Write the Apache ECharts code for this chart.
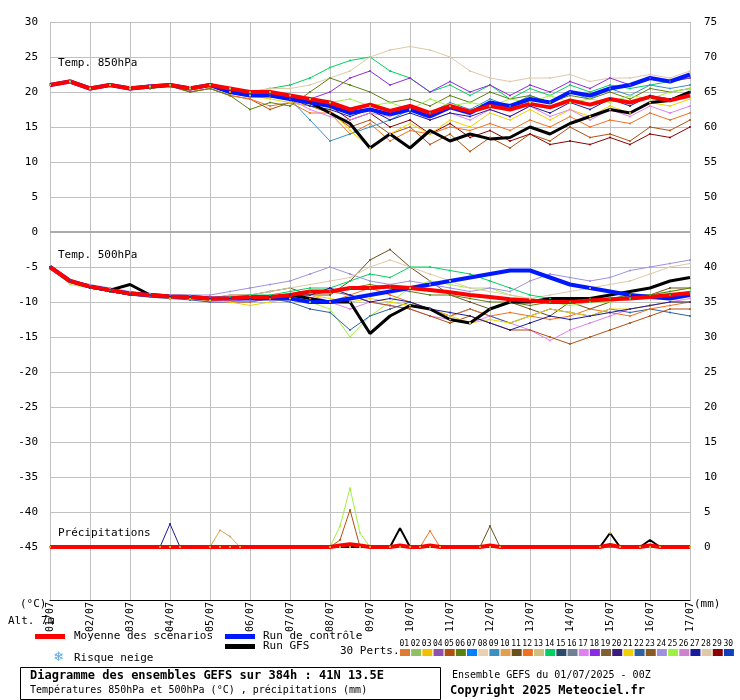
<!DOCTYPE html>
<html><head><meta charset="utf-8">
<script src="https://cdn.jsdelivr.net/npm/echarts@6/dist/echarts.min.js"></script>
<style>html,body{margin:0;padding:0;background:#fff}#c{width:740px;height:700px}</style>
</head><body><div id="c"></div>
<script>
// ---- DATA (12h steps, 0..384h) ----
var dates = ["01/07","02/07","03/07","04/07","05/07","06/07","07/07","08/07","09/07","10/07","11/07","12/07","13/07","14/07","15/07","16/07","17/07"];
var leftTicks = [30,25,20,15,10,5,0,-5,-10,-15,-20,-25,-30,-35,-40,-45];
var t850Mean = [21,21.5,20.5,21,20.5,20.8,21,20.5,21,20.5,20,20,19.5,19,18.5,17.5,18.2,17.3,18,17,18,17.2,18,17.5,18.3,17.8,18.8,18.2,19,18.5,19.3,18.8,19.5];
var t850Ctrl = [21,21.5,20.5,21,20.5,20.8,21,20.5,21,20,19.5,19.5,19,18.5,18,17,17.5,16.8,17.5,16.5,17.8,17,18.5,18,19,18.5,20,19.5,20.5,21,22,21.5,22.5];
var t850Gfs  = [21,21.5,20.5,21,20.5,20.8,21,20.5,21,20,19.5,19.5,19,18.5,17,15.5,12,14,12,14.5,13,14,13.3,13.5,15,14,15.5,16.5,17.5,17,18.5,18.8,20];
var t850P14 = [21,21.5,20.5,21,20.5,21,21,20.5,21,20.5,20,20.5,21,22,23.5,24.5,25,23,22,20,21,19.5,21,19,20.5,19.5,21,20,21,20.5,21,21.5,22];
var t850P28 = [21,21.5,20.5,21,20.8,21,21,20.8,21,20.5,20,20.5,20.5,21,22,23,25,26,26.5,26,25,23,22,21.5,22,22,22.5,21.5,22,22,22.5,22,23];
var t850P05 = [21,21.3,20.5,21,20.5,20.5,21,20,20.5,19.5,19,17.5,18.5,18,17,15,16,14,15,12.5,14,11.5,13.5,12,14,13,15,13.5,14,13,15,14.5,16];
var t850P29 = [21,21.5,20.5,21,20.5,20.8,21,20.5,21,20,19.5,19.5,19,18.5,18,16,17,15,16,14,15.5,13.5,14.5,13,14,12.5,13,12.5,13.5,12.5,14,13.5,15];
var t850P18 = [21,21.5,20.5,21,20.5,21,21,20.5,21,20.5,20,20,19.5,19,20,22,23,21,22,20,21.5,20,21,19.5,21,20,21.5,20.5,22,21,22,21.5,22];
var t850P12 = [21,21.3,20.5,21,20.5,20.5,21,20,20.5,19.5,19,18,18.5,17,17,14,15.5,13,14.5,14,15,14.5,15.5,14.5,16,15,16.5,15,16,15.5,17,16,17];
var t850P09 = [21,21.5,20.5,21,20.5,20.8,21,20.5,21,20.5,19.5,19.5,19,16,13,14,15,16,17.5,17,18.5,17.5,19,18,19.5,18.5,20,19,20.5,19.5,21,20.5,21];
var t850P21 = [21,21.5,20.5,21,20.5,20.8,21,20.5,21,20,19.5,19,18.5,18,17.5,14.5,12,14,15.5,14,16,15,17,16,17.5,16,17.5,16.5,18,17,18.5,18,19];
var t850P06 = [21,21.3,20.5,21,20.5,20.5,20.8,20,20.5,19.5,17.5,18.5,18,20,22,21,20,18.5,19,18,19.5,18.5,20,19,19.5,18.5,19.5,19,20,19,20.5,20,20.5];
var t850P17 = [21,21.5,20.5,21,20.5,20.8,21,20.5,21,20.5,20,19.5,19,17.5,16.5,16,17,16.5,17.5,16,17,16,17.5,16.5,18,16.5,17.5,16,17.5,16.5,18,17,18];
var t850P27 = [21,21.5,20.5,21,20.5,20.8,21,20.5,21,20.5,20,19.5,19,18,17.5,16.5,17.5,16,17,16,17,16.5,17.5,16.5,18,17,18.5,17.5,19,18,19.5,19,20];
var t850P25 = [21,21.5,20.5,21,20.5,20.8,21,20.5,21,20.5,20,20,19.5,19,18.5,19,18,18.5,17.5,19,18,18.5,18,19,18.5,19.5,18.5,19,18.5,19.5,19,20,20.5];

var t500Mean = [-5,-7,-7.8,-8.3,-8.8,-9,-9.2,-9.3,-9.5,-9.5,-9.3,-9.3,-9,-8.5,-8.5,-8,-8,-7.8,-8,-8.3,-8.6,-9,-9.3,-9.6,-9.8,-10,-10,-9.8,-9.6,-9.5,-9.3,-9,-8.7];
var t500Ctrl = [-5,-7,-7.8,-8.3,-8.8,-9,-9.2,-9.3,-9.5,-9.5,-9.5,-9.5,-9.5,-10,-10,-9.5,-9,-8.5,-8,-7.5,-7,-6.5,-6,-5.5,-5.5,-6.5,-7.5,-8,-8.5,-9,-9.3,-9.5,-9];
var t500Gfs  = [-5,-7,-7.8,-8.3,-7.5,-9,-9.2,-9.3,-9.5,-9.5,-9.5,-9.5,-9,-9.5,-10,-10,-14.5,-12,-10.5,-11,-12.5,-13,-11,-10,-10,-9.5,-9.5,-9.5,-9,-8.5,-8,-7,-6.5];
var t500P11 = [-5,-7,-8,-8.5,-9,-9,-9.5,-9.5,-9.5,-9,-9,-8.5,-8,-9,-9,-7,-4,-2.5,-5,-7,-9,-10,-11,-10,-11,-12,-10,-11,-10,-9,-9,-8,-8];
var t500P25 = [-5,-7.5,-8,-8.5,-9,-9,-9.5,-9.5,-9.5,-9.5,-9.5,-9.5,-9,-10,-11,-15,-12,-10,-8,-7,-7.5,-8,-8,-9,-9.5,-10,-10.5,-10,-10,-9.5,-9,-8.5,-8];
var t500P24 = [-5,-7,-7.5,-8,-8.5,-8.8,-9,-9,-9,-8.5,-8,-7.5,-7,-6,-5,-6,-7,-7.5,-7,-7.5,-8,-8.5,-8,-8.5,-7,-6,-6.5,-7,-6.5,-5.5,-5,-4.5,-4];
var t500P17 = [-5,-7,-8,-8.5,-9,-9.3,-9.5,-9.5,-10,-10,-9.5,-9.5,-9,-9,-10,-11,-10,-10.5,-11,-12,-12.5,-13,-12,-13,-14,-15.5,-14,-13,-12,-11,-10.5,-10,-9.5];
var t500P05 = [-5,-7,-8,-8.5,-9,-9,-9.2,-9.3,-9.5,-9.5,-9.5,-9.3,-9,-9,-8.5,-9,-10,-10.5,-11,-12,-13,-12,-13,-14,-14,-15,-16,-15,-14,-13,-12,-11,-11];
var t500P28 = [-5,-7,-8,-8.5,-9,-9,-9.3,-9.5,-9.5,-9,-9,-8.5,-8,-7.5,-7,-6.5,-5,-4,-5,-6,-7,-8,-8.5,-9,-9.5,-9,-8.5,-8,-7.5,-7,-6,-5,-4.5];
var t500P14 = [-5,-7,-8,-8.5,-9,-9,-9.2,-9.3,-9.5,-9.3,-9,-9,-8.5,-8,-8,-7,-6,-6.5,-5,-5,-5.5,-6,-7,-8,-9,-9.5,-10,-10,-9.5,-9.5,-9,-9,-8.5];
var t500P22 = [-5,-7,-8,-8.5,-9,-9.3,-9.5,-9.7,-10,-10,-10,-9.5,-10,-11,-11.5,-14,-12,-11,-10,-11,-12,-11,-12,-13,-12,-11,-11.5,-12,-11,-11.5,-11,-11.5,-12];
var t500P12 = [-5,-7,-8,-8.5,-9,-9,-9.5,-9.5,-9.8,-10,-10,-9.5,-9,-9.5,-10,-9,-8,-9,-10,-11,-12,-11,-12,-11.5,-12,-12.5,-12,-11,-11.5,-12,-11,-10.5,-10];
var t500P06 = [-5,-7,-8,-8.5,-9,-9,-9.2,-9.3,-9.5,-9.5,-9.5,-9.3,-9,-8.5,-8.5,-8,-7.5,-8,-8.5,-9,-9,-9.5,-10,-10,-10.5,-10,-10,-9.5,-9.5,-9,-9,-8.5,-8];
var t500P21 = [-5,-7,-8,-8.5,-9,-9,-9.5,-9.5,-9.8,-10,-10.5,-10,-9.5,-9,-9.5,-10,-9.5,-10,-10.5,-11,-12,-13,-12.5,-13,-12,-11,-11.5,-12,-11,-11,-10.5,-10,-10];
var t500P27 = [-5,-7,-8,-8.5,-9,-9,-9.2,-9.3,-9.5,-9.5,-9.5,-9.3,-9,-9,-8,-9,-10,-9.5,-10,-11,-11.5,-12,-13,-14,-13,-12,-12.5,-12,-11.5,-11,-10.5,-10,-10];

// precipitation (hour, mm)
var prHours  = [0,66,72,78,96,102,108,114,168,174,180,186,192,204,210,216,222,228,234,258,264,270,330,336,342,354,360,366,384];
var prMean   = [0,0,0,0,0,0,0,0,0,0.2,0.4,0.2,0,0,0.2,0,0,0.2,0,0,0.2,0,0,0.3,0,0,0.2,0,0];
var prGfs    = [0,0,0,0,0,0,0,0,0,0,0,0,0,0,2.7,0,0,0,0,0,0,0,0,2,0,0,1,0,0];
var prP27    = [0,0,3.3,0,0,0,0,0,0,0,0,0,0,0,0,0,0,0,0,0,0,0,0,0,0,0,0,0,0];
var prP25    = [0,0,0,0,0,0,0,0,0,3,8.4,2,0,0,0,0,0,0,0,0,0,0,0,0,0,0,0,0,0];
var prP05    = [0,0,0,0,0,0,0,0,0,1,5.3,0,0,0,0,0,0,0,0,0,0,0,0,0,0,0,0,0,0];
var prP10    = [0,0,0,0,0,2.4,1.5,0,0,0,0,0,0,0,0,0,0,0,0,0,0,0,0,0,0,0,0,0,0];
var prP12    = [0,0,0,0,0,0,0,0,0,0,0,0,0,0,0,0,0,2.3,0,0,0,0,0,0,0,0,0,0,0];
var prP11    = [0,0,0,0,0,0,0,0,0,0,0,0,0,0,0,0,0,0,0,0,3,0,0,0,0,0,0,0,0];
var prP03    = [0,0,0,0,0,0,0,0,0,0,0,0,0,0,0,0,0,0,0,0,0,0,0,2,0,0,0,0,0];

var pertColors = ["#e07a30","#90c060","#f0c000","#9050b0","#b05010","#5a8010","#0080ff","#e8d0b0","#3a8fc0","#e0a050","#6b4f1a","#f07020","#d0c080","#00d060","#2a4a6a","#708090","#e080f0","#8a2be2","#806030","#3a1a7a","#f0d000","#3060a0","#8b5a20","#a090e0","#a0f040","#d080d0","#1a1a9e","#e0c8a8","#8b0000","#1040c0"];

// ---- BUILD ----
function pts(arr){return arr.map(function(v,i){return [i*12,v];});}
function ppts(arr){return arr.map(function(v,i){return [prHours[i],v];});}
var series=[];
function pert(arr,num,conv){
  series.push({type:'line',data:conv(arr),xAxisIndex:0,yAxisIndex:conv===ppts?1:0,symbol:'circle',symbolSize:2,
    lineStyle:{width:1,color:pertColors[num-1]},itemStyle:{color:pertColors[num-1]},silent:true,animation:false});
}
[[t850P14,14],[t850P28,28],[t850P05,5],[t850P29,29],[t850P18,18],[t850P12,12],[t850P09,9],[t850P21,21],[t850P06,6],[t850P17,17],[t850P27,27],[t850P25,25],
 [t500P11,11],[t500P25,25],[t500P24,24],[t500P17,17],[t500P05,5],[t500P28,28],[t500P14,14],[t500P22,22],[t500P12,12],[t500P06,6],[t500P21,21],[t500P27,27]].forEach(function(p){pert(p[0],p[1],pts);});
[[prP27,27],[prP25,25],[prP05,5],[prP10,10],[prP12,12],[prP11,11],[prP03,3]].forEach(function(p){pert(p[0],p[1],ppts);});
function main(data,color,w,yi){series.push({type:'line',data:data,xAxisIndex:0,yAxisIndex:yi,symbol:'none',lineStyle:{width:w,color:color},silent:true,animation:false});}
main(pts(t850Gfs),'#000',3,0);main(pts(t500Gfs),'#000',3,0);main(ppts(prGfs),'#000',2,1);
main(pts(t850Ctrl),'#0018ff',4,0);main(pts(t500Ctrl),'#0018ff',4,0);
main(pts(t850Mean),'#ff0000',4,0);main(pts(t500Mean),'#ff0000',4,0);main(ppts(prMean),'#ff0000',4,1);
series.unshift({type:'line',data:[],xAxisIndex:0,yAxisIndex:0,markLine:{silent:true,symbol:'none',label:{show:false},lineStyle:{color:'#aaaaaa',width:2,type:'solid'},data:[{yAxis:0}]}});

var F='DejaVu Sans Mono';
var chart=echarts.init(document.getElementById('c'),null,{renderer:'canvas'});
var g=function(x,y,t,o){return Object.assign({type:'text',left:x,top:y,style:Object.assign({text:t,font:'11px "'+F+'"',fill:'#000'},o||{})});};
var graphics=[
  g(58,58,'Temp. 850hPa',{backgroundColor:'#fff'}),
  g(58,250,'Temp. 500hPa',{backgroundColor:'#fff'}),
  g(58,528,'Précipitations',{backgroundColor:'#fff'}),
  g(20,599,'(°C)'),g(8,616,'Alt. 7m'),g(694,599,'(mm)'),
  {type:'rect',left:35,top:634,shape:{width:30,height:5},style:{fill:'#ff0000'}},
  g(74,631,'Moyenne des scénarios'),
  {type:'rect',left:225,top:634,shape:{width:30,height:5},style:{fill:'#0018ff'}},
  g(263,631,'Run de contrôle'),
  {type:'rect',left:225,top:644,shape:{width:30,height:5},style:{fill:'#000'}},
  g(263,641,'Run GFS'),
  g(53,651,'❄',{fill:'#5aa8e8',font:'13px "DejaVu Sans"'}),
  g(74,653,'Risque neige'),
  g(340,646,'30 Perts.'),
  {type:'rect',left:20,top:667,shape:{width:420,height:32},style:{fill:'#fff',stroke:'#000',lineWidth:1}},
  g(30,670,'Diagramme des ensembles GEFS sur 384h : 41N 13.5E',{font:'bold 12px "'+F+'"'}),
  g(30,685,'Températures 850hPa et 500hPa (°C) , précipitations (mm)',{font:'10px "'+F+'"'}),
  g(452,670,'Ensemble GEFS du 01/07/2025 - 00Z',{font:'10px "'+F+'"'}),
  g(450,685,'Copyright 2025 Meteociel.fr',{font:'bold 12px "'+F+'"'})
];
pertColors.forEach(function(c,i){
  var x=400+i*11.17;
  graphics.push(g(x-0.5,640,(i<9?'0':'')+(i+1),{font:'8px "'+F+'"'}));
  graphics.push({type:'rect',left:x,top:649,shape:{width:10,height:7},style:{fill:c}});
});

var ax={color:'#000',fontFamily:F,fontSize:11};
chart.setOption({
  animation:false,
  grid:[{left:50,top:22,width:640,height:525},{left:50,top:547,width:640,height:53}],
  xAxis:[
    {gridIndex:0,type:'value',min:0,max:384,interval:24,axisLabel:{show:false},axisTick:{show:false},axisLine:{show:false},splitLine:{lineStyle:{color:'#c0c0c0'}}},
    {gridIndex:1,type:'value',min:0,max:384,interval:24,axisTick:{show:false},axisLine:{lineStyle:{color:'#000',width:1}},
      splitLine:{lineStyle:{color:'#c0c0c0'}},
      axisLabel:{rotate:90,margin:2,color:'#000',fontFamily:F,fontSize:10,formatter:function(v){return dates[v/24];}}}
  ],
  yAxis:[
    {gridIndex:0,type:'value',min:-45,max:30,interval:5,axisLine:{show:false},axisTick:{show:false},
      splitLine:{lineStyle:{color:'#c0c0c0'}},axisLabel:Object.assign({margin:12,formatter:function(v){return leftTicks.indexOf(v)>=0?String(v):'';}},ax)},
    {gridIndex:0,type:'value',min:0,max:75,interval:5,position:'right',axisLine:{show:false},axisTick:{show:false},splitLine:{show:false},axisLabel:Object.assign({margin:14},ax)},
    {gridIndex:1,type:'value',min:0,max:1,show:false,splitLine:{show:false}}
  ],
  series:series,
  graphic:graphics
});
</script></body></html>
